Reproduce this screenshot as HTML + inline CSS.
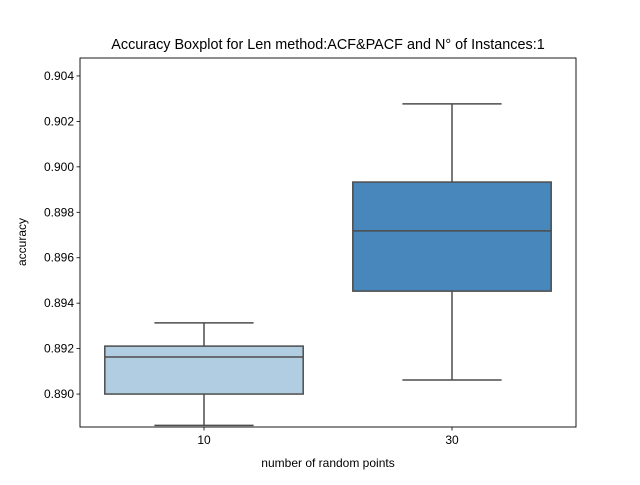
<!DOCTYPE html>
<html><head><meta charset="utf-8"><style>
body{margin:0;background:#fff;}
svg text{font-family:"Liberation Sans",Arial,sans-serif;}
</style></head><body>
<svg id="chart" width="640" height="480" xmlns="http://www.w3.org/2000/svg">
<rect width="640" height="480" fill="#fff"/>
<text x="328" y="49" font-size="14.4" text-anchor="middle">Accuracy Boxplot for Len method:ACF&amp;PACF and N° of Instances:1</text>
<g id="plot"></g>
<rect x="80" y="58" width="496" height="369" fill="none" stroke="#000" stroke-width="0.9"/>
<text x="328" y="467" font-size="12" text-anchor="middle">number of random points</text>
<text x="26" y="242" font-size="12" text-anchor="middle" transform="rotate(-90 26 242)">accuracy</text>
</svg>
<script>
const categories=["10","30"];
const whiskerLow=[0.88862,0.89062];
const q1=[0.8900,0.89453];
const median=[0.89163,0.89718];
const q3=[0.89211,0.89933];
const whiskerHigh=[0.89313,0.90277];
const colors=["#b0cde1","#4787bb"];
const yTicks=[0.890,0.892,0.894,0.896,0.898,0.900,0.902,0.904];
const yMin=0.88855,yMax=0.90479;
const L=80,R=576,T=58,B=427;
const y=v=>B-(v-yMin)/(yMax-yMin)*(B-T);
const bw=(R-L)/categories.length;
const x=i=>L+bw*(i+0.5);
const g=document.getElementById('plot');
const NS="http://www.w3.org/2000/svg";
function mk(t,a){const e=document.createElementNS(NS,t);for(const k in a)e.setAttribute(k,a[k]);g.appendChild(e);return e;}
yTicks.forEach(v=>{
 const l=mk('line',{x1:L-3.5,x2:L,y1:y(v),y2:y(v),stroke:'#000','stroke-width':0.8});
 
 
 const t=mk('text',{x:L-6,y:y(v)+4,'font-size':12,'text-anchor':'end'});t.textContent=v.toFixed(3);
 
 
});
categories.forEach((c,i)=>{
 const cx=x(i),hw=bw*0.4,col='#4d4d4d';
 const w1=mk('line',{x1:cx,x2:cx,y1:y(whiskerLow[i]),y2:y(q1[i]),stroke:col,'stroke-width':1.5});
 
 
 const w2=mk('line',{x1:cx,x2:cx,y1:y(q3[i]),y2:y(whiskerHigh[i]),stroke:col,'stroke-width':1.5});
 
 
 [whiskerLow[i],whiskerHigh[i]].forEach(v=>{
  const cap=mk('line',{x1:cx-hw/2,x2:cx+hw/2,y1:y(v),y2:y(v),stroke:col,'stroke-width':1.5});
  
  
 });
 const b=mk('rect',{x:cx-hw,y:y(q3[i]),width:2*hw,height:y(q1[i])-y(q3[i]),fill:colors[i],stroke:col,'stroke-width':1.5});
 
 
 const m=mk('line',{x1:cx-hw,x2:cx+hw,y1:y(median[i]),y2:y(median[i]),stroke:col,'stroke-width':1.5});
 
 
 const tk=mk('line',{x1:cx,x2:cx,y1:B,y2:B+3.5,stroke:'#000','stroke-width':0.8});
 
 
 const t=mk('text',{x:cx,y:B+17,'font-size':12,'text-anchor':'middle'});t.textContent=c;
 
 
});
</script>
</body></html>
